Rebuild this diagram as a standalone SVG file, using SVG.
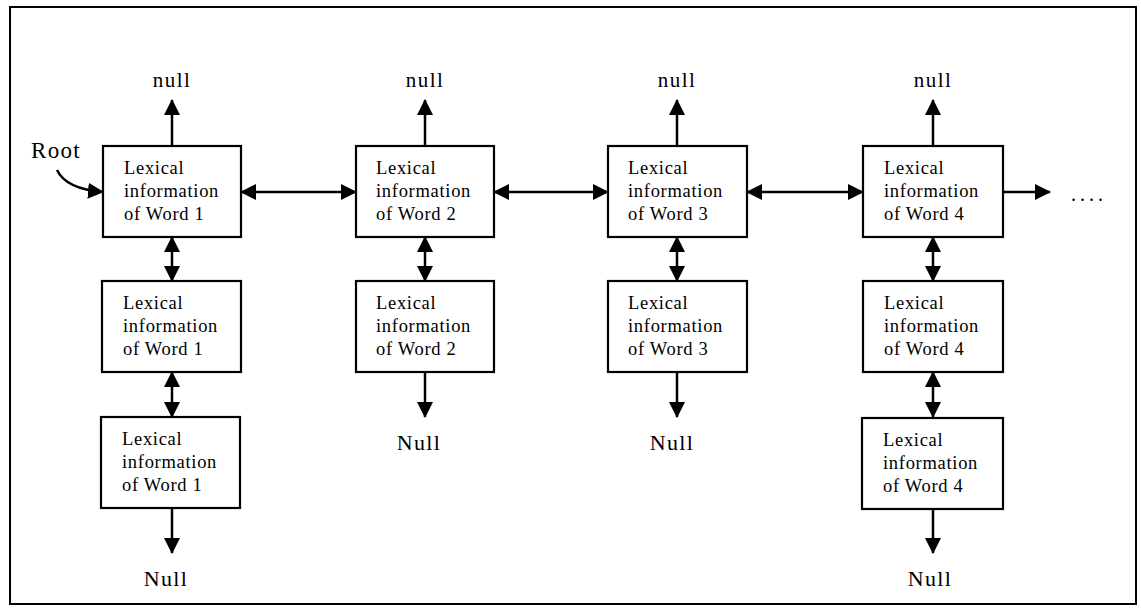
<svg xmlns="http://www.w3.org/2000/svg" width="1141" height="613" viewBox="0 0 1141 613">
<defs>
<style>
.frame{fill:none;stroke:#000;stroke-width:2}
.box{fill:#fff;stroke:#000;stroke-width:2.2}
.lbl{font-family:"Liberation Serif","Times New Roman",serif;font-size:18.5px;letter-spacing:0.7px;fill:#000}
.nul{font-family:"Liberation Serif","Times New Roman",serif;font-size:21px;letter-spacing:1.4px;fill:#000;text-anchor:middle}
.cn{fill:none;stroke:#000;stroke-width:2.5}
.one{marker-end:url(#ah)}
.two{marker-start:url(#ah);marker-end:url(#ah)}
</style>
<marker id="ah" markerUnits="userSpaceOnUse" viewBox="0 0 16 16" markerWidth="16" markerHeight="16" refX="15" refY="8" orient="auto-start-reverse">
<path d="M0,0 L16,8 L0,16 z" fill="#000"/>
</marker>
</defs>
<rect class="frame" x="10" y="7" width="1126" height="597"/>

<g id="connectors">
<line class="cn one" x1="172" y1="146" x2="172" y2="100"/>
<line class="cn one" x1="425" y1="146" x2="425" y2="100"/>
<line class="cn one" x1="677" y1="146" x2="677" y2="100"/>
<line class="cn one" x1="933" y1="146" x2="933" y2="100"/>
<line class="cn two" x1="241" y1="192" x2="356" y2="192"/>
<line class="cn two" x1="494" y1="192" x2="608" y2="192"/>
<line class="cn two" x1="747" y1="192" x2="863" y2="192"/>
<line class="cn one" x1="1003" y1="192" x2="1050" y2="192"/>
<line class="cn two" x1="172" y1="237" x2="172" y2="281"/>
<line class="cn two" x1="172" y1="372" x2="172" y2="417"/>
<line class="cn one" x1="172" y1="508" x2="172" y2="553"/>
<line class="cn two" x1="425" y1="237" x2="425" y2="281"/>
<line class="cn one" x1="425" y1="372" x2="425" y2="417"/>
<line class="cn two" x1="677" y1="237" x2="677" y2="281"/>
<line class="cn one" x1="677" y1="372" x2="677" y2="417"/>
<line class="cn two" x1="933" y1="237" x2="933" y2="281"/>
<line class="cn two" x1="933" y1="372" x2="933" y2="417"/>
<line class="cn one" x1="933" y1="508" x2="933" y2="553"/>
<path class="cn one" d="M57,170 Q66,189 103,192"/>
</g>

<g id="labels">
<text x="31" y="158" style="font-family:'Liberation Serif','Times New Roman',serif;font-size:23px;letter-spacing:1.3px">Root</text>
<text class="nul" x="172" y="87">null</text>
<text class="nul" x="425" y="87">null</text>
<text class="nul" x="677" y="87">null</text>
<text class="nul" x="933" y="87">null</text>
<text class="nul" x="166" y="586" style="font-size:22px">Null</text>
<text class="nul" x="419" y="450" style="font-size:22px">Null</text>
<text class="nul" x="672" y="450" style="font-size:22px">Null</text>
<text class="nul" x="930" y="586" style="font-size:22px">Null</text>
<text x="1071" y="201" style="font-family:'Liberation Serif',serif;font-size:20px;letter-spacing:4px">....</text>
</g>

<g id="n1a"><rect class="box" x="103" y="146" width="138" height="91"/><text class="lbl" x="124" y="174">Lexical</text><text class="lbl" x="124" y="197">information</text><text class="lbl" x="124" y="220">of Word 1</text></g>
<g id="n1b"><rect class="box" x="102" y="281" width="139" height="91"/><text class="lbl" x="123" y="309">Lexical</text><text class="lbl" x="123" y="332">information</text><text class="lbl" x="123" y="355">of Word 1</text></g>
<g id="n1c"><rect class="box" x="101" y="417" width="139" height="91"/><text class="lbl" x="122" y="445">Lexical</text><text class="lbl" x="122" y="468">information</text><text class="lbl" x="122" y="491">of Word 1</text></g>

<g id="n2a"><rect class="box" x="356" y="146" width="138" height="91"/><text class="lbl" x="376" y="174">Lexical</text><text class="lbl" x="376" y="197">information</text><text class="lbl" x="376" y="220">of Word 2</text></g>
<g id="n2b"><rect class="box" x="356" y="281" width="138" height="91"/><text class="lbl" x="376" y="309">Lexical</text><text class="lbl" x="376" y="332">information</text><text class="lbl" x="376" y="355">of Word 2</text></g>

<g id="n3a"><rect class="box" x="608" y="146" width="139" height="91"/><text class="lbl" x="628" y="174">Lexical</text><text class="lbl" x="628" y="197">information</text><text class="lbl" x="628" y="220">of Word 3</text></g>
<g id="n3b"><rect class="box" x="608" y="281" width="139" height="91"/><text class="lbl" x="628" y="309">Lexical</text><text class="lbl" x="628" y="332">information</text><text class="lbl" x="628" y="355">of Word 3</text></g>

<g id="n4a"><rect class="box" x="863" y="146" width="140" height="91"/><text class="lbl" x="884" y="174">Lexical</text><text class="lbl" x="884" y="197">information</text><text class="lbl" x="884" y="220">of Word 4</text></g>
<g id="n4b"><rect class="box" x="863" y="281" width="140" height="91"/><text class="lbl" x="884" y="309">Lexical</text><text class="lbl" x="884" y="332">information</text><text class="lbl" x="884" y="355">of Word 4</text></g>
<g id="n4c"><rect class="box" x="862" y="418" width="141" height="91"/><text class="lbl" x="883" y="446">Lexical</text><text class="lbl" x="883" y="469">information</text><text class="lbl" x="883" y="492">of Word 4</text></g>
</svg>
